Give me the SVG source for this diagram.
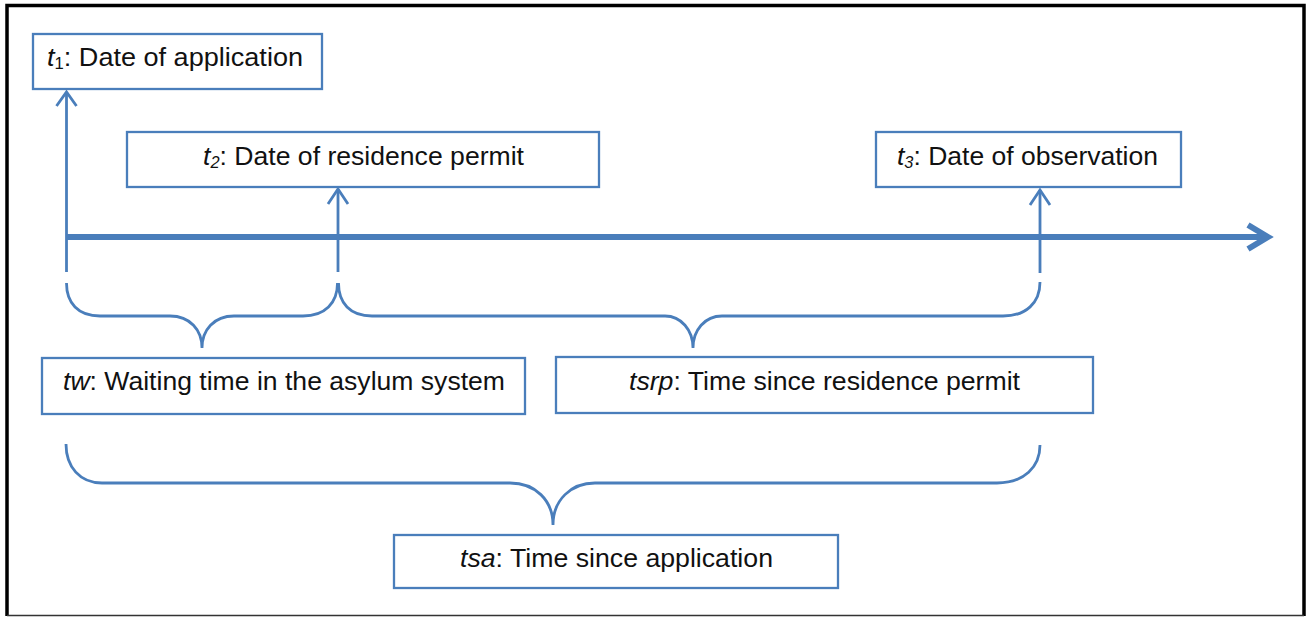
<svg xmlns="http://www.w3.org/2000/svg" width="1308" height="617" viewBox="0 0 1308 617">
<style>
.box{fill:#fff;stroke:#4a7ebb;stroke-width:2.3}
.ln{fill:none;stroke:#4a7ebb;stroke-width:2.8;stroke-linecap:butt}
.axis{fill:none;stroke:#4a7ebb;stroke-width:6}
.t{font-family:"Liberation Sans",Arial,sans-serif;font-size:26px;fill:#111}
.i{font-style:italic}
.s{font-size:16px}
</style>
<rect x="0" y="0" width="1308" height="617" fill="#fff"/>
<path d="M7,616 V5.5 H1304 V616" fill="none" stroke="#000" stroke-width="3.5"/>
<path d="M7,615.5 H1304" fill="none" stroke="#333" stroke-width="1.5"/>
<g id="connectors">
<path class="axis" d="M66,237 H1266"/>
<polyline class="axis" points="1248,225 1268,237 1248,249" stroke-linejoin="miter"/>
<path class="ln" d="M66.5,92 V272"/>
<polyline class="ln" points="56.5,106 66.5,92 76.5,106"/>
<path class="ln" d="M338,189 V272"/>
<polyline class="ln" points="328,204 338,189 348,204"/>
<path class="ln" d="M1040,190 V273"/>
<polyline class="ln" points="1030,205 1040,190 1050,205"/>
<path class="ln" d="M66.5,283 C66.5,303 78,316 100,316 L170,316 C190,316 202,330 202,348 C202,330 214,316 234,316 L303,316 C325,316 337.5,303 337.5,283"/>
<path class="ln" d="M338.5,283 C338.5,303 350,316 372,316 L665,316 C681,316 693,330 693,348 C693,330 705,316 722,316 L1003,316 C1026,316 1040,303 1040,282"/>
<path class="ln" d="M66,444 C66,467 80,483 102,483 L510,483 C535,483 553,500 553,525 C553,500 571,483 595,483 L997,483 C1024,483 1040,467 1040,445"/>
</g>
<g id="t1">
<rect class="box" x="33" y="34" width="289" height="55"/>
<text class="t" x="47" y="66" textLength="256" lengthAdjust="spacingAndGlyphs"><tspan class="i">t</tspan><tspan class="s" dy="3">1</tspan><tspan dy="-3">: Date of application</tspan></text>
</g>
<g id="t2">
<rect class="box" x="127" y="132" width="472" height="55"/>
<text class="t" x="203" y="165" textLength="321" lengthAdjust="spacingAndGlyphs"><tspan class="i">t</tspan><tspan class="s i" dy="3">2</tspan><tspan dy="-3">: Date of residence permit</tspan></text>
</g>
<g id="t3">
<rect class="box" x="876" y="132" width="305" height="55"/>
<text class="t" x="897" y="165" textLength="261" lengthAdjust="spacingAndGlyphs"><tspan class="i">t</tspan><tspan class="s i" dy="3">3</tspan><tspan dy="-3">: Date of observation</tspan></text>
</g>
<g id="tw">
<rect class="box" x="42" y="358" width="483" height="56"/>
<text class="t" x="63" y="390" textLength="442" lengthAdjust="spacingAndGlyphs"><tspan class="i">tw</tspan>: Waiting time in the asylum system</text>
</g>
<g id="tsrp">
<rect class="box" x="556" y="357" width="537" height="56"/>
<text class="t" x="629" y="390" textLength="391" lengthAdjust="spacingAndGlyphs"><tspan class="i">tsrp</tspan>: Time since residence permit</text>
</g>
<g id="tsa">
<rect class="box" x="394" y="535" width="444" height="53"/>
<text class="t" x="460" y="567" textLength="313" lengthAdjust="spacingAndGlyphs"><tspan class="i">tsa</tspan>: Time since application</text>
</g>
</svg>
